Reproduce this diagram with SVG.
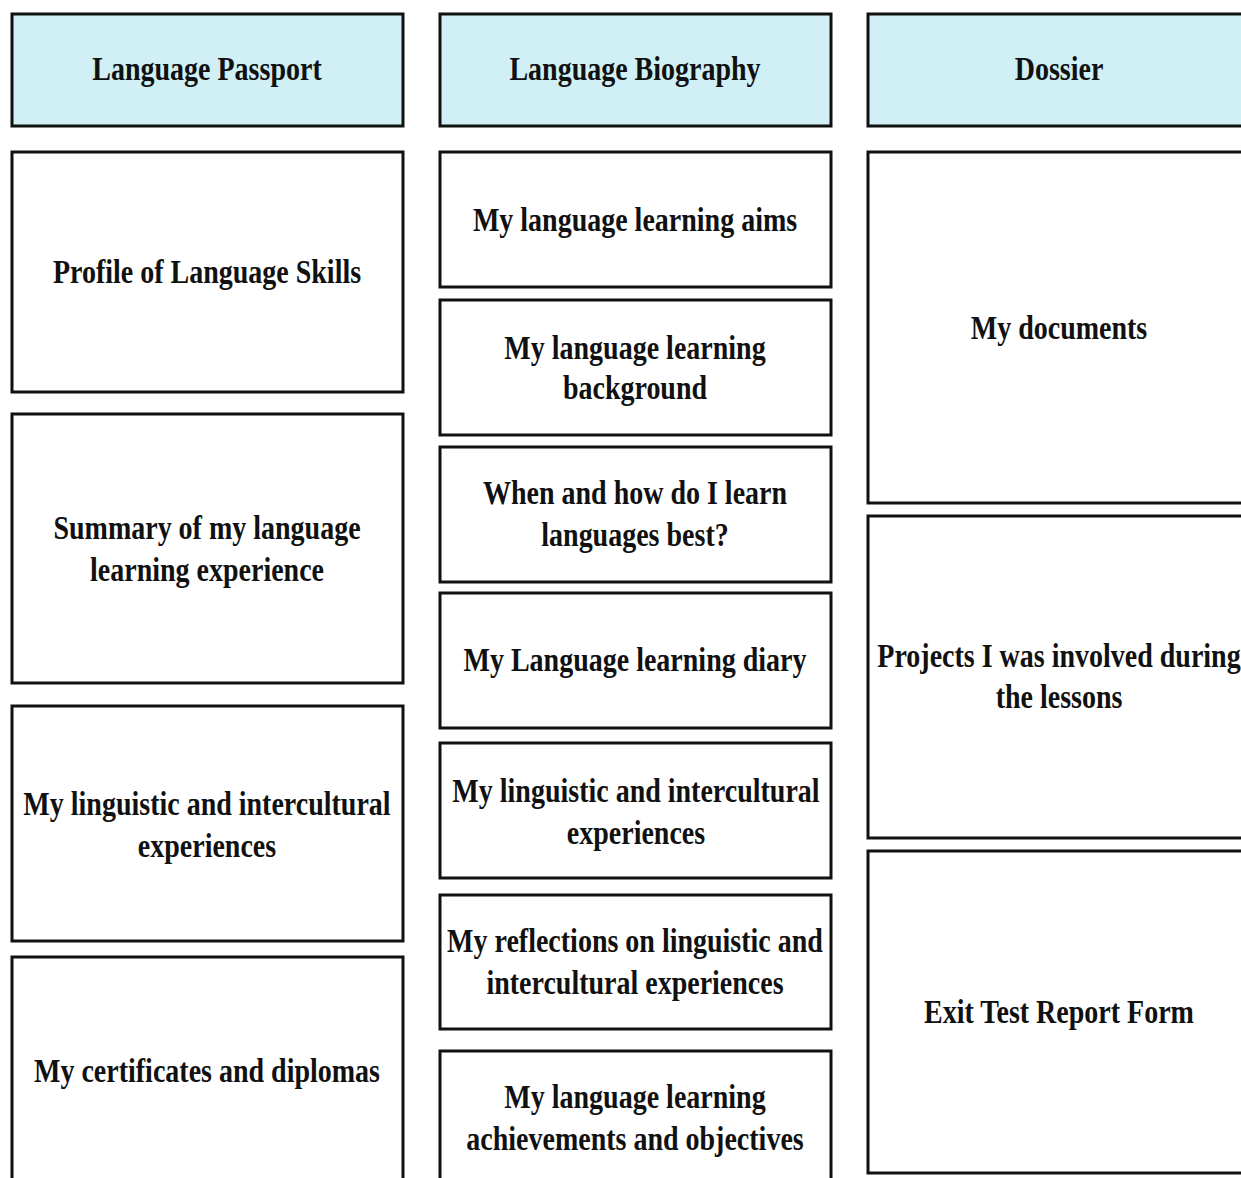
<svg xmlns="http://www.w3.org/2000/svg" width="1241" height="1178" viewBox="0 0 1241 1178">
<style>
.box{fill:#ffffff;stroke:#111111;stroke-width:3}
.hdr{fill:#D0F0F5;stroke:#111111;stroke-width:3}
text{font-family:"Liberation Serif","Times New Roman",serif;font-weight:bold;font-size:28px;fill:#111111;text-anchor:middle}
</style>
<rect x="0" y="0" width="1241" height="1178" fill="#ffffff"/>
<g id="hdr-passport"><rect class="hdr" x="12" y="14" width="391" height="112"/><text transform="translate(207,80) scale(1,1.19)">Language Passport</text></g>
<g id="hdr-biography"><rect class="hdr" x="440" y="14" width="391" height="112"/><text transform="translate(635,80) scale(1,1.19)">Language Biography</text></g>
<g id="hdr-dossier"><rect class="hdr" x="868" y="14" width="392" height="112"/><text transform="translate(1059,80) scale(1,1.19)">Dossier</text></g>

<g id="lp-1"><rect class="box" x="12" y="152" width="391" height="240"/><text transform="translate(207,283) scale(1,1.19)">Profile of Language Skills</text></g>
<g id="lp-2"><rect class="box" x="12" y="414" width="391" height="269"/><text transform="translate(207,539) scale(1,1.19)">Summary of my language</text><text transform="translate(207,581) scale(1,1.19)">learning experience</text></g>
<g id="lp-3"><rect class="box" x="12" y="706" width="391" height="235"/><text transform="translate(207,815) scale(1,1.19)">My linguistic and intercultural</text><text transform="translate(207,857) scale(1,1.19)">experiences</text></g>
<g id="lp-4"><rect class="box" x="12" y="957" width="391" height="240"/><text transform="translate(207,1082) scale(1,1.19)">My certificates and diplomas</text></g>

<g id="lb-1"><rect class="box" x="440" y="152" width="391" height="135"/><text transform="translate(635,231) scale(1,1.19)">My language learning aims</text></g>
<g id="lb-2"><rect class="box" x="440" y="300" width="391" height="135"/><text transform="translate(635,359) scale(1,1.19)">My language learning</text><text transform="translate(635,399) scale(1,1.19)">background</text></g>
<g id="lb-3"><rect class="box" x="440" y="447" width="391" height="135"/><text transform="translate(635,504) scale(1,1.19)">When and how do I learn</text><text transform="translate(635,546) scale(1,1.19)">languages best?</text></g>
<g id="lb-4"><rect class="box" x="440" y="593" width="391" height="135"/><text transform="translate(635,671) scale(1,1.19)">My Language learning diary</text></g>
<g id="lb-5"><rect class="box" x="440" y="743" width="391" height="135"/><text transform="translate(636,802) scale(1,1.19)">My linguistic and intercultural</text><text transform="translate(636,844) scale(1,1.19)">experiences</text></g>
<g id="lb-6"><rect class="box" x="440" y="895" width="391" height="134"/><text transform="translate(635,952) scale(1,1.19)">My reflections on linguistic and</text><text transform="translate(635,994) scale(1,1.19)">intercultural experiences</text></g>
<g id="lb-7"><rect class="box" x="440" y="1051" width="391" height="150"/><text transform="translate(635,1108) scale(1,1.19)">My language learning</text><text transform="translate(635,1150) scale(1,1.19)">achievements and objectives</text></g>

<g id="d-1"><rect class="box" x="868" y="152" width="392" height="351"/><text transform="translate(1059,339) scale(1,1.19)">My documents</text></g>
<g id="d-2"><rect class="box" x="868" y="516" width="392" height="322"/><text transform="translate(1059,667) scale(1,1.19)">Projects I was involved during</text><text transform="translate(1059,708) scale(1,1.19)">the lessons</text></g>
<g id="d-3"><rect class="box" x="868" y="851" width="392" height="322"/><text transform="translate(1059,1023) scale(1,1.19)">Exit Test Report Form</text></g>
</svg>
